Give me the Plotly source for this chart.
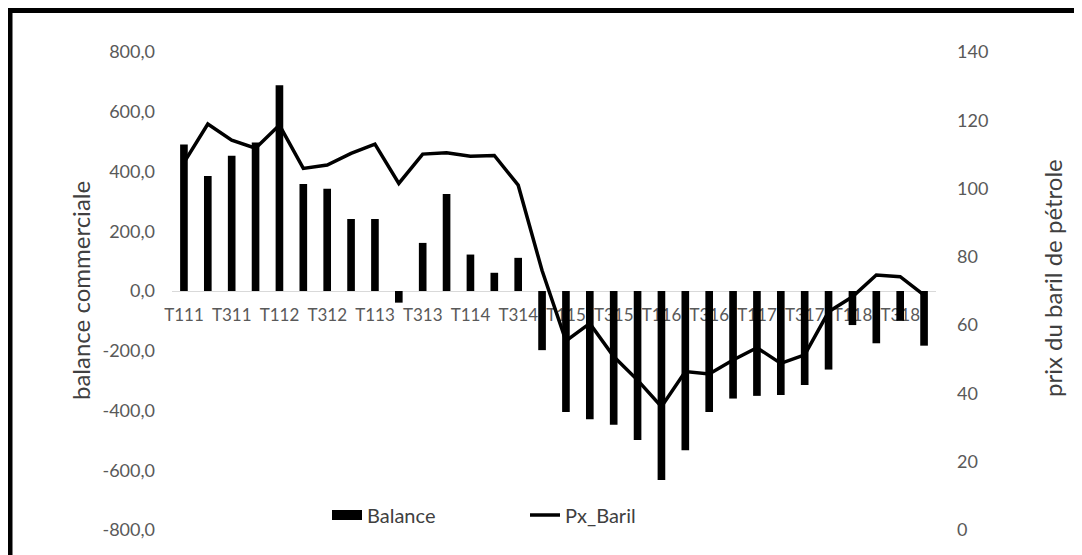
import plotly.graph_objects as go

categories = [f"T{q}{y}" for y in range(11, 19) for q in range(1, 5)]
balance = [490, 385, 453, 497, 689, 358, 342, 241, 241, -39, 161, 325, 122, 61, 111,
           -198, -405, -429, -448, -499, -633, -533, -405, -360, -351, -348, -315, -263,
           -114, -175, -100, -183]
px_baril = [107.6, 118.9, 114.2, 111.8, 118.6, 105.9, 106.9, 110.3, 113.0, 101.5, 110.1,
            110.5, 109.5, 109.7, 101.0, 76.0, 55.4, 60.5, 50.8, 43.9, 36.1, 46.4, 45.7,
            49.8, 53.4, 48.8, 51.3, 63.9, 68.3, 74.7, 74.2, 68.8]
tick_labels = categories[::2]
y1_ticks = [-800, -600, -400, -200, 0, 200, 400, 600, 800]
y1_ticktext = ["-800,0", "-600,0", "-400,0", "-200,0", "0,0", "200,0", "400,0", "600,0", "800,0"]
y2_ticks = [0, 20, 40, 60, 80, 100, 120, 140]

FONT = "Lato"
TICKC = "#595959"
TITLEC = "#404040"

# page is offset by the browser's default 8px body margin
OFF = 8
W, H = 1082 - OFF, 555 - OFF
L, T = 172 - OFF, 52 - OFF
R = W - (936 - OFF)
B = H - (530 - OFF)
pw, ph = W - L - R, H - T - B

def px2x(p):
    return (p - OFF - L) / pw

def py2y(p):
    return (H - B - (p - OFF)) / ph

fig = go.Figure()
# legend-only entry drawn as a wide dark block, like the reference legend
fig.add_trace(go.Scatter(x=[None], y=[None], name="Balance", mode="lines",
                         line=dict(color="black", width=12), showlegend=True))
fig.add_trace(go.Bar(x=categories, y=balance, name="Balance", marker_color="black",
                     marker_line_width=0, yaxis="y", showlegend=False))
fig.add_trace(go.Scatter(x=categories, y=px_baril, name="Px_Baril", mode="lines",
                         line=dict(color="black", width=3.5), yaxis="y2"))

fig.update_layout(
    width=W, height=H,
    margin=dict(l=L, r=R, t=T, b=B, autoexpand=False),
    paper_bgcolor="white", plot_bgcolor="white",
    bargap=0.68,
    font=dict(family=FONT, size=16, color=TICKC),
    xaxis=dict(type="category", tickvals=tick_labels, ticktext=tick_labels,
               anchor="free", position=0.5, showline=False, showgrid=False,
               ticks="", layer="below traces", zeroline=False, tickangle=0,
               tickfont=dict(family=FONT, size=17, color=TICKC), ticklabelstandoff=12),
    yaxis=dict(range=[-800, 800], tickvals=y1_ticks, ticktext=y1_ticktext,
               showgrid=False, zeroline=True, zerolinecolor="#d9d9d9", zerolinewidth=1,
               showline=False, ticks="", ticklabelstandoff=16,
               tickfont=dict(family=FONT, size=18, color=TICKC)),
    yaxis2=dict(range=[0, 140], tickvals=y2_ticks, overlaying="y", side="right",
                showgrid=False, zeroline=False, showline=False, ticks="",
                ticklabelstandoff=20, tickfont=dict(family=FONT, size=18, color=TICKC)),
    showlegend=True,
    legend=dict(orientation="h", x=px2x(327), y=py2y(515), xanchor="left", yanchor="middle",
                font=dict(family=FONT, size=20, color=TITLEC),
                entrywidth=153, entrywidthmode="pixels", itemwidth=30,
                bgcolor="rgba(0,0,0,0)"),
    annotations=[
        dict(text="balance commerciale", x=px2x(80), y=py2y(291), xref="paper", yref="paper",
             xanchor="center", yanchor="middle",
             textangle=-90, showarrow=False, font=dict(family=FONT, size=24, color=TITLEC)),
        dict(text="prix du baril de pétrole", x=px2x(1052), y=py2y(278), xref="paper",
             yref="paper", xanchor="center", yanchor="middle", textangle=-90, showarrow=False,
             font=dict(family=FONT, size=24, color=TITLEC)),
    ],
    shapes=[
        dict(type="line", xref="paper", yref="paper", x0=px2x(10), x1=px2x(10),
             y0=py2y(570), y1=py2y(8), line=dict(color="black", width=5)),
        dict(type="line", xref="paper", yref="paper", x0=px2x(8), x1=px2x(1100),
             y0=py2y(10.5), y1=py2y(10.5), line=dict(color="black", width=5)),
    ],
)

fig.write_html("out.html")
